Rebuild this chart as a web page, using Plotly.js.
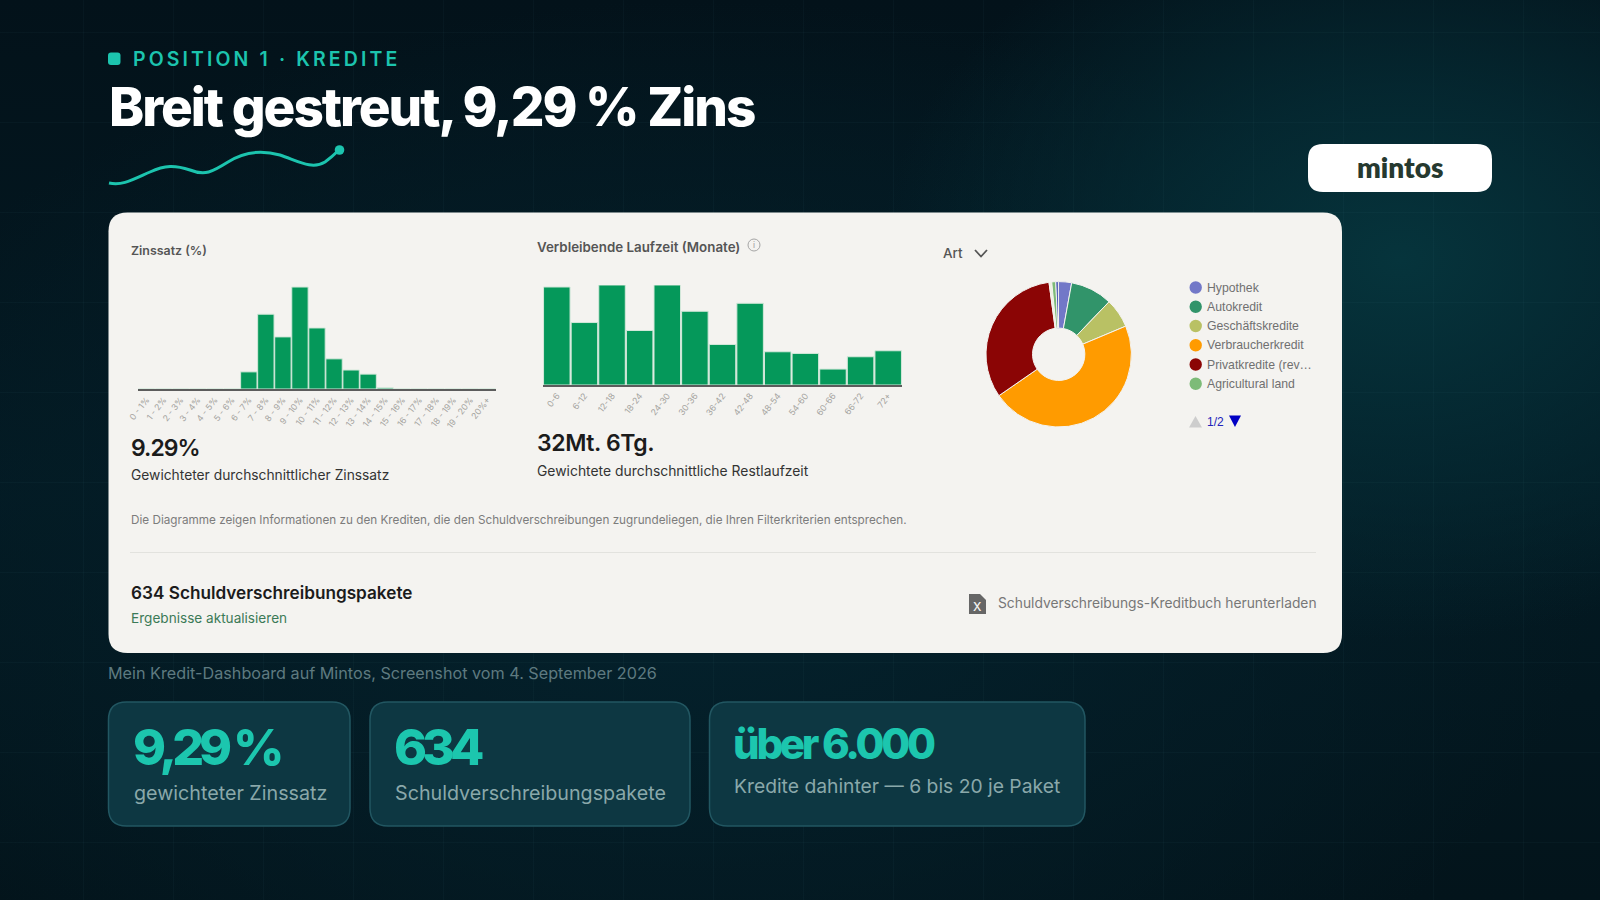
<!DOCTYPE html>
<html lang="de">
<head>
<meta charset="utf-8">
<title>Breit gestreut, 9,29 % Zins</title>
<script src="https://cdn.plot.ly/plotly-3.0.1.min.js"></script>
<style>
html,body{margin:0;padding:0;width:1600px;height:900px;overflow:hidden;background:#03131b;}
#bg{position:absolute;left:0;top:0;width:1600px;height:900px;
background:
 linear-gradient(90deg,rgba(90,170,180,.04) 1px,transparent 1px) -7px 0/90px 90px,
 linear-gradient(0deg,rgba(90,170,180,.04) 1px,transparent 1px) 0 33px/90px 90px,
 radial-gradient(ellipse 520px 380px at 1400px 260px,#06343c 0%,rgba(5,45,54,.75) 45%,rgba(4,30,40,0) 100%),
 radial-gradient(ellipse 900px 560px at 700px 560px,#04222d 0%,rgba(4,30,40,.6) 60%,rgba(3,20,28,0) 100%),
 linear-gradient(180deg,#03121a 0%,#031a23 55%,#03141b 100%);}
#chart{position:absolute;left:0;top:0;width:1600px;height:900px;}
</style>
</head>
<body>
<div id="bg"></div>
<div id="chart"></div>
<script>
// ---- data ----
const zinsCategories = ["0 - 1%","1 - 2%","2 - 3%","3 - 4%","4 - 5%","5 - 6%","6 - 7%","7 - 8%","8 - 9%","9 - 10%","10 - 11%","11 - 12%","12 - 13%","13 - 14%","14 - 15%","15 - 16%","16 - 17%","17 - 18%","18 - 19%","19 - 20%","20%+"];
const zinsValues = [0,0,0,0,0,0,4.6,20.1,14.0,27.4,16.4,8.1,5.1,4.0,0.3,0,0,0,0,0,0];
const laufzeitCategories = ["0-6","6-12","12-18","18-24","24-30","30-36","36-42","42-48","48-54","54-60","60-66","66-72","72+"];
const laufzeitValues = [295,188,301,164,301,222,122,246,100,95,48,85,103];
const artNames = ["Hypothek","Autokredit","Geschäftskredite","Verbraucherkredit","Privatkredite (rev…","Weitere A","Agricultural land","Weitere B"];
const artValues = [2.95,9.3,6.5,46.7,32.5,0.6,0.9,0.55];
const artColors = ["#7278c8","#31946a","#b9c164","#ff9b00","#8b0505","#eef0e0","#7dbb78","#3f4fb0"];
const legendNames = ["Hypothek","Autokredit","Geschäftskredite","Verbraucherkredit","Privatkredite (rev…","Agricultural land"];
const legendColors = ["#7278c8","#31946a","#b9c164","#ff9b00","#8b0505","#7dbb78"];

// ---- helpers: page pixels to paper fractions ----
const W = 1600, H = 900;
const px = x => x / W, py = y => 1 - y / H;
const P = (x, y) => px(x).toFixed(5) + "," + py(y).toFixed(5);
const SANS = "Inter, 'Noto Sans', sans-serif";
const shapes = [], annotations = [], spacing = [];

function roundRect(x0, y0, x1, y1, r, fill, line, lw) {
  const d = "M" + P(x0 + r, y0) + " L" + P(x1 - r, y0) + " Q" + P(x1, y0) + " " + P(x1, y0 + r) +
    " L" + P(x1, y1 - r) + " Q" + P(x1, y1) + " " + P(x1 - r, y1) +
    " L" + P(x0 + r, y1) + " Q" + P(x0, y1) + " " + P(x0, y1 - r) +
    " L" + P(x0, y0 + r) + " Q" + P(x0, y0) + " " + P(x0 + r, y0) + " Z";
  shapes.push({type:"path", xref:"paper", yref:"paper", layer:"below", path:d, fillcolor:fill, line:{color:line || fill, width:lw === undefined ? 0 : lw}});
}
function pathShape(pts, fill, line, lw) {
  shapes.push({type:"path", xref:"paper", yref:"paper", layer:"below", path:pts, fillcolor:fill || "rgba(0,0,0,0)", line:{color:line || "rgba(0,0,0,0)", width:lw || 0}});
}
function circle(cx, cy, r, fill, line, lw) {
  shapes.push({type:"circle", xref:"paper", yref:"paper", layer:"below", x0:px(cx - r), x1:px(cx + r), y0:py(cy + r), y1:py(cy - r), fillcolor:fill, line:{color:line || fill, width:lw || 0}});
}
function label(text, x, y, size, color, weight, opts) {
  opts = opts || {};
  const i = annotations.length;
  annotations.push({text, xref:"paper", yref:"paper", x:px(x), y:py(y), xanchor:opts.anchor || "left", yanchor:"middle", align:opts.anchor === "center" ? "center" : "left",
    showarrow:false, borderpad:0, font:{family:opts.family || SANS, size, color, weight:weight || 400}});
  if (opts.ls !== undefined) spacing.push([i, opts.ls]);
}

// ---- slide furniture ----
roundRect(108, 52.5, 120.5, 65, 3, "#1cc4ae");
label("POSITION 1 · KREDITE", 132, 59, 19.5, "#1cc4ae", 600, {ls:3.1});
label("Breit gestreut, 9,29 % Zins", 108, 107, 53, "#ffffff", 800, {ls:-2.0});
pathShape("M" + P(109,183) + " C" + P(122,186) + " " + P(132,180) + " " + P(150,172) + " C" + P(165,165) + " " + P(175,165) + " " + P(190,170) +
  " C" + P(205,176) + " " + P(212,172) + " " + P(228,162) + " C" + P(245,151) + " " + P(262,150) + " " + P(280,155) +
  " C" + P(298,161) + " " + P(312,170) + " " + P(325,162) + " C" + P(332,157) + " " + P(336,153) + " " + P(339,150), null, "#1cc4ae", 3);
circle(339.5, 150, 4.8, "#1cc4ae");

roundRect(1308, 144, 1492, 192, 15, "#ffffff");
label("mintos", 1400, 167, 28, "#26392f", 800, {anchor:"center", family:"Lato, Inter, sans-serif"});

// white card
roundRect(108.5, 212.5, 1342, 653, 19, "#f4f3f0");
label("Zinssatz (%)", 129.5, 250, 12.4, "#555555", 600);
label("9.29%", 129.5, 447.5, 23, "#1b1b1b", 600, {ls:-1});
label("Gewichteter durchschnittlicher Zinssatz", 129.5, 475, 13.8, "#333333", 400);
label("Verbleibende Laufzeit (Monate)", 536, 247, 13.35, "#555555", 600);
circle(754, 245, 6, "rgba(0,0,0,0)", "#a5a5a5", 1);
label("i", 754, 245, 8, "#a5a5a5", 500, {anchor:"center"});
label("32Mt. 6Tg.", 536, 443, 23, "#1b1b1b", 600, {ls:-0.4});
label("Gewichtete durchschnittliche Restlaufzeit", 536, 470.5, 13.9, "#333333", 400);
label("Art", 942, 253, 13.5, "#555555", 500);
pathShape("M" + P(975,250) + " L" + P(981,256.5) + " L" + P(987,250), null, "#555555", 1.8);

// legend drawn from the named arrays
legendNames.forEach((n, i) => {
  const y = 287.5 + i * 19.25;
  circle(1195.7, y, 6.2, legendColors[i]);
  label(n, 1205.5, y, 12.25, "#707070", 400, {family:"'Liberation Sans', Arial, sans-serif"});
});
pathShape("M" + P(1189,427.5) + " L" + P(1195.5,416) + " L" + P(1202,427.5) + " Z", "#cdcdcd");
label("1/2", 1206, 422, 12, "#2222bb", 400, {family:"'Liberation Sans', Arial, sans-serif"});
pathShape("M" + P(1229,415.5) + " L" + P(1241,415.5) + " L" + P(1235,427) + " Z", "#0000c4");

label("Die Diagramme zeigen Informationen zu den Krediten, die den Schuldverschreibungen zugrundeliegen, die Ihren Filterkriterien entsprechen.", 129.5, 520, 11.73, "#7c7c7c", 400);
shapes.push({type:"line", xref:"paper", yref:"paper", layer:"below", x0:px(130), x1:px(1316), y0:py(552.5), y1:py(552.5), line:{color:"#e2e2de", width:1}});
label("634 Schuldverschreibungspakete", 129.5, 592, 17.2, "#1b1b1b", 600);
label("Ergebnisse aktualisieren", 129.5, 618, 13.6, "#3b7a57", 400);
pathShape("M" + P(969,594) + " L" + P(980,594) + " L" + P(986,600) + " L" + P(986,614) + " L" + P(969,614) + " Z", "#666666");
label("X", 977.5, 606, 12, "#f4f3f0", 500, {anchor:"center"});
label("Schuldverschreibungs-Kreditbuch herunterladen", 996.5, 603, 13.8, "#777777", 400);

label("Mein Kredit-Dashboard auf Mintos, Screenshot vom 4. September 2026", 107, 672.5, 16.2, "#5e7a80", 400);

// stat cards
const CARD = "#0d3742", EDGE = "#225762";
roundRect(108.5, 702, 350, 826, 18, CARD, EDGE, 1.5);
roundRect(370, 702, 690, 826, 18, CARD, EDGE, 1.5);
roundRect(709.5, 702, 1085, 826, 18, CARD, EDGE, 1.5);
label("9,29 %", 132, 747, 50, "#1cc6ae", 800, {ls:-5});
label("gewichteter Zinssatz", 132.5, 792.5, 19.7, "#8aa8aa", 400);
label("634", 393, 747, 50, "#1cc6ae", 800, {ls:-5});
label("Schuldverschreibungspakete", 393.5, 792.5, 19.7, "#8aa8aa", 400);
label("über 6.000", 732, 743, 42, "#1cc6ae", 800, {ls:-3.3});
label("Kredite dahinter — 6 bis 20 je Paket", 733, 785.5, 19.3, "#8aa8aa", 400);

// ---- traces ----
const tickFont = {family:SANS, size:8.6, color:"#a5a4a0"};
const axisX = (d, anchor) => ({domain:d, anchor, type:"category", showgrid:false, zeroline:false, showline:true, linecolor:"#5c5c5c", linewidth:1.5, ticks:"", tickangle:-52, ticklabelstandoff:1, tickfont:tickFont, fixedrange:true, automargin:false});
const axisY = (d, anchor, max) => ({domain:d, anchor, range:[0,max], visible:false, fixedrange:true});

const traces = [
  {type:"bar", x:zinsCategories, y:zinsValues, xaxis:"x", yaxis:"y", marker:{color:"#05985a", line:{color:"#d3e8da", width:1}}, hoverinfo:"skip"},
  {type:"bar", x:laufzeitCategories, y:laufzeitValues, xaxis:"x2", yaxis:"y2", marker:{color:"#05985a", line:{color:"#d3e8da", width:1}}, hoverinfo:"skip"},
  {type:"pie", labels:artNames, values:artValues, sort:false, direction:"clockwise", rotation:-0.3, hole:0.36, textinfo:"none", showlegend:false, hoverinfo:"skip",
   marker:{colors:artColors, line:{color:"#f4f3f0", width:1}},
   domain:{x:[px(1058.7 - 72.7), px(1058.7 + 72.7)], y:[py(354.3 + 72.7), py(354.3 - 72.7)]}}
];

const layout = {
  width:W, height:H, margin:{l:0,r:0,t:0,b:0},
  paper_bgcolor:"rgba(0,0,0,0)", plot_bgcolor:"rgba(0,0,0,0)",
  showlegend:false, bargap:0.04, barcornerradius:0,
  xaxis:axisX([px(138), px(496)], "y"),
  yaxis:axisY([py(389), py(282)], "x", 28.75),
  xaxis2:axisX([px(543), px(902)], "y2"),
  yaxis2:axisY([py(385), py(285)], "x2", 301),
  shapes, annotations
};

// tracking is applied through a stylesheet keyed on the annotation index
const st = document.createElement("style");
st.textContent = spacing.map(([i, v]) => 'g.annotation[data-index="' + i + '"] text{letter-spacing:' + v + 'px;}').join("\n");
document.head.appendChild(st);

Plotly.newPlot("chart", traces, layout, {displayModeBar:false, staticPlot:true, responsive:false});
</script>
</body>
</html>
